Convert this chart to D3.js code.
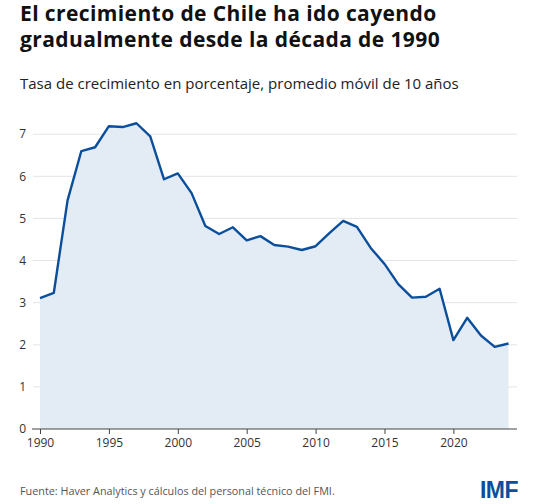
<!DOCTYPE html>
<html>
<head>
<meta charset="utf-8">
<script src="https://cdn.jsdelivr.net/npm/d3@7"></script>
<style>
  body { margin: 0; background: #fff; }
  svg { display: block; font-family: 'Open Sans', sans-serif; }
</style>
</head>
<body>
<svg id="chart" width="540" height="504"></svg>
<script>
// datos
const years = [1990, 1991, 1992, 1993, 1994, 1995, 1996, 1997, 1998, 1999,
  2000, 2001, 2002, 2003, 2004, 2005, 2006, 2007, 2008, 2009,
  2010, 2011, 2012, 2013, 2014, 2015, 2016, 2017, 2018, 2019,
  2020, 2021, 2022, 2023, 2024]
const growth = [3.11, 3.23, 5.43, 6.6, 6.69, 7.19, 7.17, 7.26, 6.95, 5.93,
  6.07, 5.6, 4.82, 4.63, 4.79, 4.48, 4.58, 4.37, 4.33, 4.25,
  4.34, 4.65, 4.94, 4.8, 4.3, 3.92, 3.44, 3.12, 3.14, 3.33,
  2.11, 2.64, 2.22, 1.95, 2.03]
const xTicks = [1990, 1995, 2000, 2005, 2010, 2015, 2020]
const yTicks = [0, 1, 2, 3, 4, 5, 6, 7]

const title = ['El crecimiento de Chile ha ido cayendo', 'gradualmente desde la década de 1990']
const subtitle = 'Tasa de crecimiento en porcentaje, promedio móvil de 10 años'
const source = 'Fuente: Haver Analytics y cálculos del personal técnico del FMI.'

const svg = d3.select('#chart')

const x = d3.scaleLinear().domain([1990, 2024]).range([40, 508.5])
const y = d3.scaleLinear().domain([0, 7]).range([429, 134.2])

// títulos
svg.selectAll('.title')
  .data(title)
  .enter().append('text')
  .attr('class', 'title')
  .attr('x', 20)
  .attr('y', (d, i) => 21 + i * 26)
  .style('font-size', '21px')
  .style('font-weight', 700)
  .style('letter-spacing', '0.4px')
  .style('fill', '#111')
  .text(d => d)

svg.append('text')
  .attr('x', 20)
  .attr('y', 89)
  .style('font-size', '15px')
  .style('fill', '#222')
  .text(subtitle)

// rejilla
svg.append('g')
  .selectAll('line')
  .data(yTicks.filter(d => d > 0))
  .enter().append('line')
  .attr('x1', 33)
  .attr('x2', 517)
  .attr('y1', d => y(d))
  .attr('y2', d => y(d))
  .style('stroke', '#e4e4e4')
  .style('stroke-width', 1)

// área y línea
const area = d3.area()
  .x((d, i) => x(years[i]))
  .y0(y(0))
  .y1(d => y(d))

const line = d3.line()
  .x((d, i) => x(years[i]))
  .y(d => y(d))

svg.append('path')
  .datum(growth)
  .attr('d', area)
  .style('fill', '#e3ebf5')

svg.append('path')
  .datum(growth)
  .attr('d', line)
  .style('fill', 'none')
  .style('stroke', '#0b4f9c')
  .style('stroke-width', 2.4)
  .style('stroke-linejoin', 'round')

// eje y (etiquetas)
svg.append('g')
  .selectAll('text')
  .data(yTicks)
  .enter().append('text')
  .attr('x', 26)
  .attr('y', d => y(d))
  .attr('dy', '0.35em')
  .attr('text-anchor', 'end')
  .style('font-size', '12px')
  .style('fill', '#333')
  .text(d => d)

// eje x
const xAxis = svg.append('g')
  .attr('transform', `translate(0,${y(0)})`)
  .call(d3.axisBottom(x).tickValues(xTicks).tickFormat(d3.format('d')).tickSize(5).tickPadding(4))

xAxis.select('.domain').attr('d', `M32,0H517`).style('stroke', '#444')
xAxis.selectAll('.tick line').style('stroke', '#444')
xAxis.selectAll('.tick text')
  .style('font-family', "'Open Sans', sans-serif")
  .style('font-size', '12px')
  .style('fill', '#333')

// pie
svg.append('text')
  .attr('x', 20)
  .attr('y', 495)
  .style('font-size', '10.8px')
  .style('fill', '#555')
  .text(source)

svg.append('text')
  .attr('x', 518)
  .attr('y', 498)
  .attr('text-anchor', 'end')
  .style('font-family', "'Liberation Sans', Arial, sans-serif")
  .style('font-size', '23px')
  .style('font-weight', 700)
  .style('fill', '#0b4f9c')
  .style('letter-spacing', '-0.5px')
  .text('IMF')
</script>
</body>
</html>
